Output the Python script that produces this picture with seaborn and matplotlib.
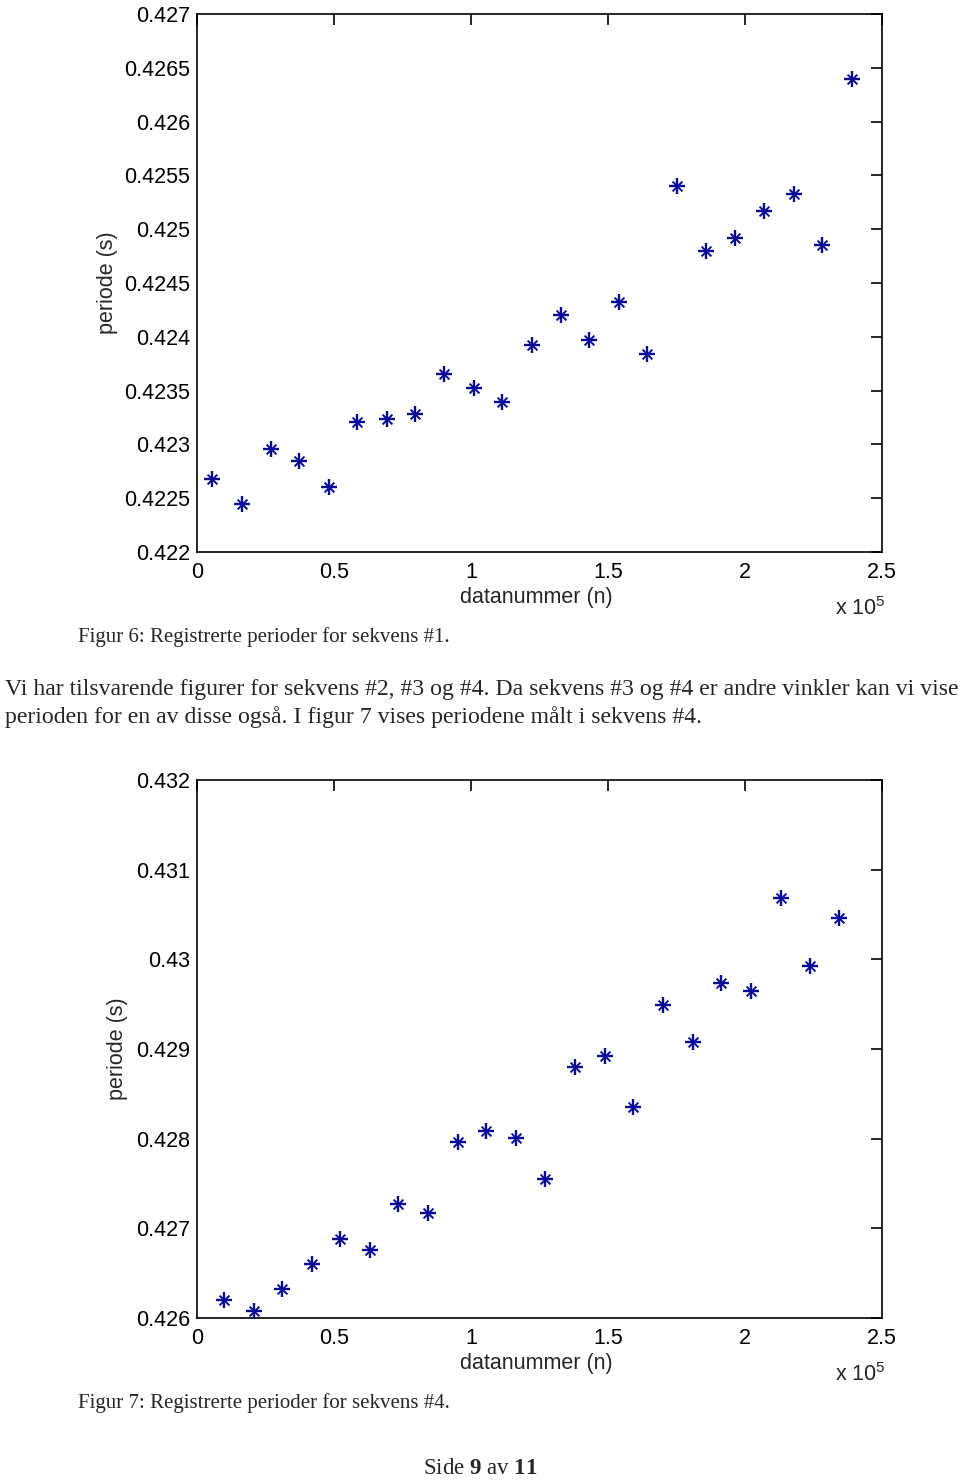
import matplotlib
matplotlib.use("Agg")
import matplotlib.pyplot as plt
import seaborn as sns
import pandas as pd
from matplotlib.ticker import FixedLocator

# ---- data ----
n_seq1 = [5470, 16400, 27000, 37200, 48200, 58400, 69300, 79600, 90100, 101100,
          111300, 122300, 132800, 143100, 154000, 164200, 175200, 185800, 196400,
          206900, 217900, 228100, 239100]
period_seq1 = [0.42268, 0.42245, 0.42296, 0.42285, 0.42260, 0.42321, 0.42324,
               0.42328, 0.42365, 0.42352, 0.42339, 0.42392, 0.42420, 0.42397,
               0.42432, 0.42384, 0.42540, 0.42480, 0.42492, 0.42517, 0.42533,
               0.42485, 0.42640]

n_seq4 = [9850, 20800, 31000, 42000, 52200, 63100, 73400, 84300, 95300, 105500,
          116400, 127000, 138000, 148900, 159100, 170100, 181000, 191200, 202200,
          213100, 223700, 234300]
period_seq4 = [0.42620, 0.42608, 0.42632, 0.42660, 0.42688, 0.42676, 0.42727,
               0.42717, 0.42796, 0.42809, 0.42801, 0.42755, 0.42880, 0.42892,
               0.42835, 0.42949, 0.42908, 0.42974, 0.42965, 0.43068, 0.42993,
               0.43046]

yticks_seq1 = [0.422, 0.4225, 0.423, 0.4235, 0.424, 0.4245, 0.425, 0.4255, 0.426, 0.4265, 0.427]
ytick_labels_seq1 = ["0.422", "0.4225", "0.423", "0.4235", "0.424", "0.4245",
                     "0.425", "0.4255", "0.426", "0.4265", "0.427"]
yticks_seq4 = [0.426, 0.427, 0.428, 0.429, 0.430, 0.431, 0.432]
ytick_labels_seq4 = ["0.426", "0.427", "0.428", "0.429", "0.43", "0.431", "0.432"]
xticks = [0, 50000, 100000, 150000, 200000, 250000]
xtick_labels = ["0", "0.5", "1", "1.5", "2", "2.5"]

xlabel = "datanummer (n)"
ylabel = "periode (s)"
caption1 = "Figur 6: Registrerte perioder for sekvens #1."
caption2 = "Figur 7: Registrerte perioder for sekvens #4."
body_line1 = "Vi har tilsvarende figurer for sekvens #2, #3 og #4. Da sekvens #3 og #4 er andre vinkler kan vi vise"
body_line2 = "perioden for en av disse også. I figur 7 vises periodene målt i sekvens #4."

sns.set_style("white")
plt.rcParams['font.family'] = ['Liberation Sans', 'DejaVu Sans']
plt.rcParams['mathtext.fontset'] = 'custom'
plt.rcParams['mathtext.rm'] = 'Liberation Serif'
plt.rcParams['mathtext.bf'] = 'Liberation Serif:bold'
plt.rcParams['mathtext.sf'] = 'Liberation Sans'

W, H = 960, 1480
fig = plt.figure(figsize=(9.6, 14.8), dpi=100)

marker_color = "#0a0a9a"
tick_font = ['Liberation Sans', 'DejaVu Sans']
serif = ['Liberation Serif', 'DejaVu Serif']


def make_axes(top_px, bottom_px, xs, ys, yticks, ylabels, ylim, ylabel_x):
    left, right = 197, 882
    ax = fig.add_axes([left / W, 1 - bottom_px / H, (right - left) / W, (bottom_px - top_px) / H])
    df = pd.DataFrame({"n": xs, "p": ys})
    sns.scatterplot(data=df, x="n", y="p", ax=ax, marker="+", s=130, color=marker_color,
                    linewidth=1.7, legend=False, zorder=3)
    sns.scatterplot(data=df, x="n", y="p", ax=ax, marker="x", s=50, color=marker_color,
                    linewidth=1.4, legend=False, zorder=3)
    ax.set_xlim(0, 250000)
    ax.set_ylim(*ylim)
    ax.xaxis.set_major_locator(FixedLocator(xticks))
    ax.set_xticklabels(xtick_labels)
    ax.yaxis.set_major_locator(FixedLocator(yticks))
    ax.set_yticklabels(ylabels)
    ax.tick_params(direction="in", length=8, width=1.2, top=True, right=True,
                   labelsize=15.5, colors="black")
    ax.tick_params(axis="x", pad=7)
    ax.tick_params(axis="y", pad=5)
    for sp in ax.spines.values():
        sp.set_visible(True)
        sp.set_color("black")
        sp.set_linewidth(1.2)
    ax.set_xlabel("")
    ax.set_ylabel("")
    fig.text(536 / W, 1 - (bottom_px + 46) / H, xlabel, ha="center", va="center",
             fontsize=15.5, family=tick_font)
    fig.text(ylabel_x / W, 1 - ((top_px + bottom_px) / 2) / H, ylabel, rotation=90,
             ha="center", va="center", fontsize=15.5, family=tick_font)
    fig.text(835 / W, 1 - (bottom_px + 57) / H, "x 10$^{\\mathsf{5}}$", ha="left", va="center",
             fontsize=15.5, family=tick_font)
    return ax


make_axes(14, 552, n_seq1, period_seq1, yticks_seq1, ytick_labels_seq1, (0.422, 0.427), 107)
make_axes(780, 1318, n_seq4, period_seq4, yticks_seq4, ytick_labels_seq4, (0.426, 0.432), 118)

fig.text(78 / W, 1 - 637 / H, caption1, ha="left", va="center", fontsize=15, family=serif)
fig.text(5 / W, 1 - 690 / H, body_line1, ha="left", va="center", fontsize=17.1, family=serif)
fig.text(5 / W, 1 - 717 / H, body_line2, ha="left", va="center", fontsize=17.1, family=serif)
fig.text(78 / W, 1 - 1403 / H, caption2, ha="left", va="center", fontsize=15, family=serif)

# footer "Side 9 av 11" with bold numbers
fig.text(423 / W, 1 - 1468 / H, "Side $\\mathbf{9}$ av $\\mathbf{11}$", ha="left", va="center",
         fontsize=16.5, family=serif)

fig.savefig("out.png", dpi=100, facecolor="white")
